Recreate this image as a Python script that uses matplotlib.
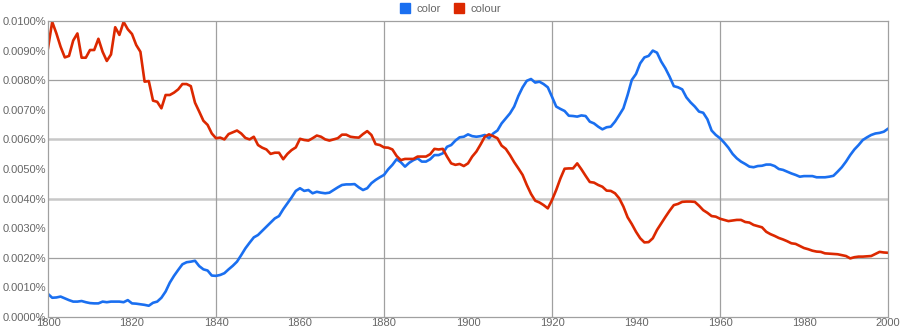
import matplotlib
matplotlib.use('Agg')
import matplotlib.pyplot as plt
from matplotlib.patches import Patch

years = list(range(1800, 2001))

# share of the corpus, in percent
color = [
    0.00078, 0.00065, 0.00066, 0.00069, 0.00063, 0.00057, 0.00052, 0.00052, 0.00054, 0.00050,
    0.00047, 0.00046, 0.00046, 0.00052, 0.00050, 0.00052, 0.00052, 0.00052, 0.00050, 0.00057,
    0.00046, 0.00045, 0.00043, 0.00041, 0.00038, 0.00048, 0.00052, 0.00065, 0.00086, 0.00116,
    0.00139, 0.00159, 0.00178, 0.00185, 0.00187, 0.00190, 0.00172, 0.00161, 0.00157, 0.00140,
    0.00139, 0.00142, 0.00148, 0.00161, 0.00173, 0.00187, 0.00209, 0.00232, 0.00251, 0.00269,
    0.00277, 0.00291, 0.00305, 0.00319, 0.00333, 0.00341, 0.00364, 0.00384, 0.00404, 0.00426,
    0.00435, 0.00426, 0.00429, 0.00418, 0.00423, 0.00420, 0.00418, 0.00420, 0.00429, 0.00438,
    0.00446, 0.00448, 0.00448, 0.00449, 0.00438, 0.00429, 0.00435, 0.00452, 0.00463, 0.00472,
    0.00480, 0.00499, 0.00514, 0.00533, 0.00523, 0.00508, 0.00521, 0.00530, 0.00536, 0.00525,
    0.00525, 0.00533, 0.00547, 0.00547, 0.00553, 0.00575, 0.00581, 0.00596, 0.00607, 0.00609,
    0.00617, 0.00611, 0.00609, 0.00611, 0.00615, 0.00604, 0.00620, 0.00630, 0.00654, 0.00671,
    0.00688, 0.00711, 0.00747, 0.00776, 0.00798, 0.00804, 0.00792, 0.00795, 0.00787, 0.00776,
    0.00744, 0.00711, 0.00703, 0.00696, 0.00680, 0.00679, 0.00677, 0.00681, 0.00679, 0.00660,
    0.00654, 0.00643, 0.00634, 0.00641, 0.00643, 0.00660, 0.00682, 0.00705, 0.00750, 0.00801,
    0.00821, 0.00857, 0.00877, 0.00882, 0.00900, 0.00893, 0.00863, 0.00840, 0.00812, 0.00780,
    0.00776, 0.00769, 0.00742, 0.00725, 0.00711, 0.00694, 0.00690, 0.00668, 0.00630, 0.00615,
    0.00604, 0.00589, 0.00572, 0.00551, 0.00536, 0.00525, 0.00517, 0.00508, 0.00506, 0.00510,
    0.00511, 0.00515, 0.00515, 0.00510, 0.00500, 0.00497, 0.00491, 0.00485, 0.00480, 0.00474,
    0.00476, 0.00476, 0.00476, 0.00472, 0.00472, 0.00472, 0.00474, 0.00477, 0.00491, 0.00506,
    0.00525, 0.00547, 0.00566, 0.00581, 0.00598, 0.00607, 0.00615, 0.00620, 0.00622, 0.00626,
    0.00636,
]

colour = [
    0.00908, 0.00997, 0.00958, 0.00913, 0.00877, 0.00882, 0.00934, 0.00958, 0.00876, 0.00876,
    0.00902, 0.00902, 0.00940, 0.00896, 0.00865, 0.00887, 0.00979, 0.00953, 0.00997, 0.00972,
    0.00956, 0.00919, 0.00896, 0.00795, 0.00797, 0.00731, 0.00727, 0.00705, 0.00750, 0.00750,
    0.00758, 0.00769, 0.00787, 0.00787, 0.00780, 0.00724, 0.00694, 0.00663, 0.00649, 0.00620,
    0.00604, 0.00606, 0.00600, 0.00618, 0.00624, 0.00630, 0.00620, 0.00605, 0.00600, 0.00609,
    0.00581, 0.00572, 0.00566, 0.00551, 0.00555, 0.00555, 0.00533, 0.00551, 0.00564, 0.00573,
    0.00602, 0.00598, 0.00596, 0.00604, 0.00613, 0.00609, 0.00600, 0.00596, 0.00600, 0.00604,
    0.00616, 0.00616, 0.00609, 0.00607, 0.00606, 0.00618, 0.00628, 0.00615, 0.00584, 0.00581,
    0.00573, 0.00572, 0.00566, 0.00544, 0.00530, 0.00534, 0.00534, 0.00534, 0.00542, 0.00542,
    0.00542, 0.00550, 0.00568, 0.00566, 0.00568, 0.00542, 0.00519, 0.00514, 0.00517, 0.00510,
    0.00519, 0.00542, 0.00559, 0.00583, 0.00609, 0.00617, 0.00611, 0.00604, 0.00579, 0.00568,
    0.00547, 0.00523, 0.00502, 0.00480, 0.00446, 0.00416, 0.00393, 0.00387, 0.00378, 0.00367,
    0.00395, 0.00429, 0.00468, 0.00501, 0.00502, 0.00502, 0.00519, 0.00499, 0.00477, 0.00456,
    0.00454, 0.00446, 0.00440, 0.00427, 0.00426, 0.00418, 0.00401, 0.00373, 0.00337, 0.00314,
    0.00288, 0.00266, 0.00252, 0.00253, 0.00266, 0.00294, 0.00316, 0.00338, 0.00359, 0.00378,
    0.00382, 0.00389, 0.00390, 0.00390, 0.00389, 0.00376, 0.00361, 0.00352, 0.00341, 0.00339,
    0.00332, 0.00328, 0.00324, 0.00326, 0.00328, 0.00328, 0.00321, 0.00319, 0.00311, 0.00307,
    0.00303, 0.00288, 0.00280, 0.00274, 0.00267, 0.00262, 0.00256, 0.00249, 0.00247, 0.00240,
    0.00233, 0.00229, 0.00224, 0.00221, 0.00220, 0.00215, 0.00214, 0.00213, 0.00212, 0.00209,
    0.00206, 0.00198, 0.00202, 0.00204, 0.00204, 0.00205, 0.00206, 0.00213, 0.00220, 0.00218,
    0.00217,
]

blue = '#1a6ff0'
red = '#dc2800'
grey = '#a0a0a0'
txt = '#666666'

plt.rcParams['font.family'] = ['Liberation Sans', 'DejaVu Sans']

fig = plt.figure(figsize=(9.01, 3.35), dpi=100)
ax = fig.add_axes([48 / 901, 18 / 335, 840 / 901, 296 / 335])

ax.plot(years, color, c=blue, linewidth=1.9, solid_joinstyle='round')
ax.plot(years, colour, c=red, linewidth=1.9, solid_joinstyle='round')

ax.set_xlim(1800, 2000)
ax.set_ylim(0, 0.01)

yt = [i * 0.001 for i in range(11)]
ax.set_yticks(yt)
ax.set_yticklabels(['%.4f%%' % v for v in yt])
ax.set_xticks(range(1800, 2001, 20))
ax.tick_params(length=0, labelsize=8, labelcolor=txt, pad=1)

for g in [0.002, 0.008]:
    ax.axhline(g, color=grey, linewidth=0.9, zorder=0)
for g in [0.004, 0.006]:
    ax.axhline(g, color='#c8c8c8', linewidth=1.8, zorder=0)
for g in [1840, 1880, 1920, 1960]:
    ax.axvline(g, color=grey, linewidth=0.9, zorder=0)

for s in ax.spines.values():
    s.set_color(grey)
    s.set_linewidth(0.9)

handles = [Patch(facecolor=blue, edgecolor=blue, label='color'),
           Patch(facecolor=red, edgecolor=red, label='colour')]
fig.legend(handles=handles, loc='upper center', bbox_to_anchor=(0.5, 1.02), ncol=2,
           frameon=False, fontsize=8, labelcolor=txt, handlelength=0.9, handleheight=0.9,
           handletextpad=0.6, columnspacing=1.2)

fig.savefig('out.png', dpi=100)
